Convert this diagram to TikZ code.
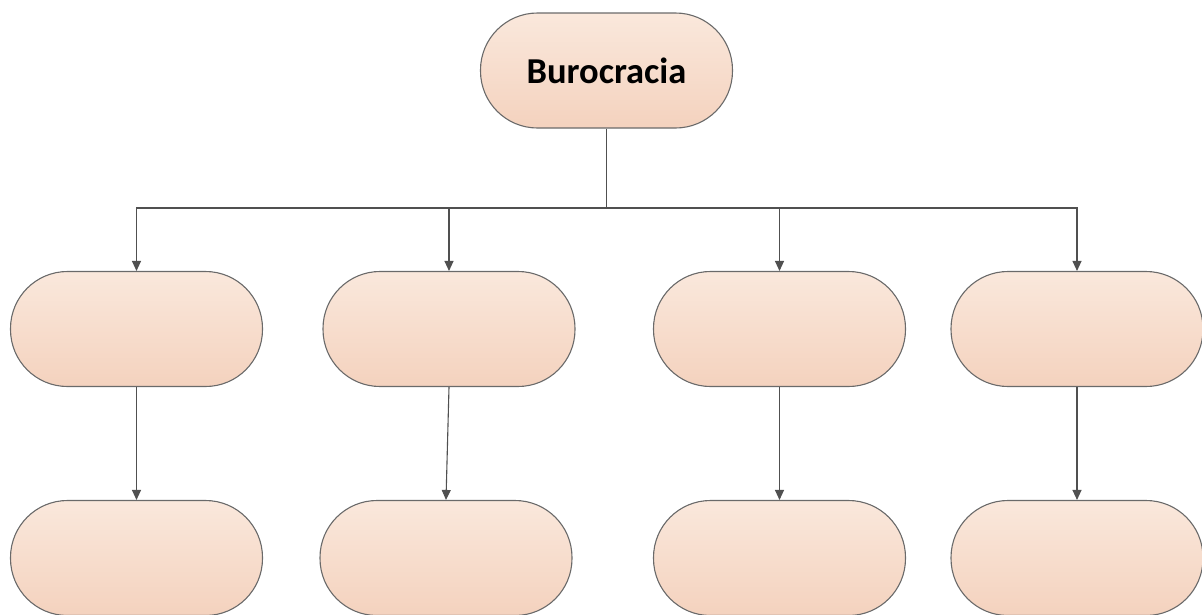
\documentclass[tikz,border=0pt]{standalone}
\usepackage{fontspec}
\setmainfont{Carlito}
\usetikzlibrary{arrows.meta}
\definecolor{edgegray}{HTML}{6A6A6A}
\definecolor{linegray}{HTML}{505050}
\definecolor{filltop}{HTML}{FAE8DC}
\definecolor{fillbot}{HTML}{F4D2BE}
\tikzset{
  pill/.style={draw=edgegray, line width=1.1pt, top color=filltop, bottom color=fillbot,
    minimum width=252pt, minimum height=115pt, rounded corners=57pt, inner sep=0pt},
  conn/.style={draw=linegray, line width=1.1pt},
  arr/.style={conn, -{Triangle[length=10pt,width=9pt]}}
}
\begin{document}
\begin{tikzpicture}[x=1pt,y=-1pt]
\useasboundingbox (0,0) rectangle (1202,614);
\clip (0,0) rectangle (1202,614);
\node[pill, font=\bfseries\fontsize{36.5}{42}\selectfont] (top) at (606.5,70.5) {Burocracia};
\node[pill] (a1) at (136.5,329) {};
\node[pill] (b1) at (449,329) {};
\node[pill] (c1) at (779.5,329) {};
\node[pill] (d1) at (1077,329) {};
\node[pill] (a2) at (136.5,558) {};
\node[pill] (b2) at (446,558) {};
\node[pill] (c2) at (779.5,558) {};
\node[pill] (d2) at (1077,558) {};
\coordinate (j) at (606.5,208);
\draw[conn] (top.south) -- (j);
\draw[arr] (j) -| (a1.north);
\draw[arr] (j) -| (b1.north);
\draw[arr] (j) -| (c1.north);
\draw[arr] (j) -| (d1.north);
\draw[arr] (a1.south) -- (a2.north);
\draw[arr] (b1.south) -- (b2.north);
\draw[arr] (c1.south) -- (c2.north);
\draw[arr] (d1.south) -- (d2.north);
\end{tikzpicture}
\end{document}
